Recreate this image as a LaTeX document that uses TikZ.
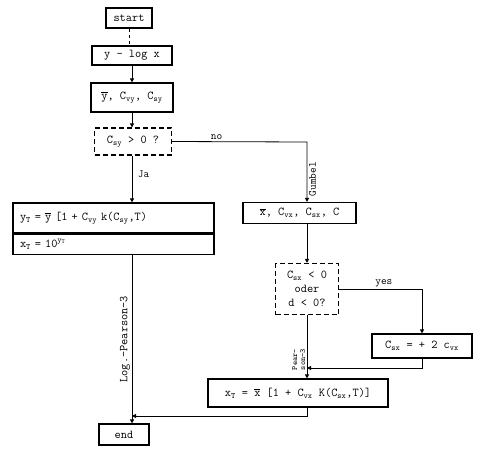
\documentclass[tikz,border=0pt]{standalone}
\usepackage{xcolor}
\usepackage{tikz}
\usepackage{amsmath}
\usetikzlibrary{
    arrows.meta,
    positioning
}

\newcommand{\subt}[1]{$_{\mathtt{#1}}$}
\newcommand{\barv}[1]{$\overline{\mathtt{#1}}$}

\begin{document}
\begin{tikzpicture}[
x=1pt, y=-1pt,
font=\ttfamily\fontsize{12}{14}\selectfont,
box/.style={
draw,
line width=1.2pt,
inner sep=2pt,
minimum height=20pt,
align=center
},
dbox/.style={
box,
dash pattern=on 5pt off 3pt
},
flow/.style={
-{Triangle[length=4pt,width=4pt]},
line width=0.8pt
},
lbl/.style={
font=\ttfamily\fontsize{11}{12}\selectfont,
inner sep=1.5pt
}
]

\useasboundingbox (0,0) rectangle (479,453);

% main column
\node[box, minimum width=46pt] (start) at (129,18)
{start};

\node[box, minimum width=80pt, minimum height=19pt] (ylog) at (132,55.5)
{y - log x};

\node[box, minimum width=82pt, minimum height=29pt] (ybar) at (132,97.5)
{\barv{y}, C\subt{vy}, C\subt{sy}};

\node[dbox, minimum width=77pt, minimum height=27pt] (csy) at (133,141.5)
{C\subt{sy} > 0 ?};

\node[box, minimum width=201pt, minimum height=30pt,
text width=187pt, align=left] (ytbox) at (113.5,218)
{y\subt{T} = \barv{y} [1 + C\subt{vy} k(C\subt{sy},T)};

\node[box, minimum width=201pt, minimum height=20pt,
text width=187pt, align=left,
below=0pt of ytbox] (xtlog)
{x\subt{T} = 10$^{\mathtt{y_T}}$};

\node[box, minimum width=50pt, minimum height=21pt] (endbox) at (124,434.5)
{end};

% right column
\node[box, minimum width=113pt, minimum height=21pt] (xbar) at (299.5,213)
{\barv{x}, C\subt{vx}, C\subt{sx}, C};

\node[dbox, minimum width=63pt, minimum height=51pt] (dec) at (307,289)
{C\subt{sx} < 0\\oder\\d < 0?};

\node[box, minimum width=100pt, minimum height=24pt] (csx) at (422,346)
{C\subt{sx} = + 2 c\subt{vx}};

\node[box, minimum width=180pt, minimum height=28pt] (xtbox) at (298,393)
{x\subt{T} = \barv{x} [1 + C\subt{vx} K(C\subt{sx},T)]};

\coordinate (gum) at (307,142);
\coordinate (pj) at (307,368);
\coordinate (lj) at (132,416);

% connectors
\draw[line width=0.8pt, dashed]
(start) -- (start.south |- ylog.north);

\draw[flow]
(ylog) -- (ybar);

\draw[flow]
(ybar) -- (ybar.south |- csy.north);

\draw[flow]
(csy.south -| ybar.south) -- node[lbl, right=4pt, pos=0.4] {Ja}
(ybar.south |- ytbox.north);

\draw[flow]
(csy.east) -- node[lbl, above, pos=0.33] {no}
(gum) -- node[lbl, rotate=90, anchor=north, pos=0.62] {Gumbel}
(gum |- xbar.north);

\draw[flow]
(gum |- xbar.south) -- (dec.north);

\draw[flow]
(dec.east) -| node[lbl, above, pos=0.27] {yes}
(csx.north);

\draw[flow]
(csx.south) |- (pj);

\draw[flow]
(dec.south) -- node[lbl, rotate=90, anchor=south, pos=0.7,
font=\ttfamily\fontsize{8}{8}\selectfont, align=center] {Pear-\\son-3}
(dec.south |- xtbox.north);

\draw[flow]
(xtbox.south -| dec.south) |- (lj);

\draw[flow]
(ybar.south |- xtlog.south) -- node[lbl, rotate=90, anchor=south, pos=0.5,
font=\ttfamily\fontsize{12}{13}\selectfont] {Log.-Pearson-3}
(ybar.south |- endbox.north);

\end{tikzpicture}
\end{document}
